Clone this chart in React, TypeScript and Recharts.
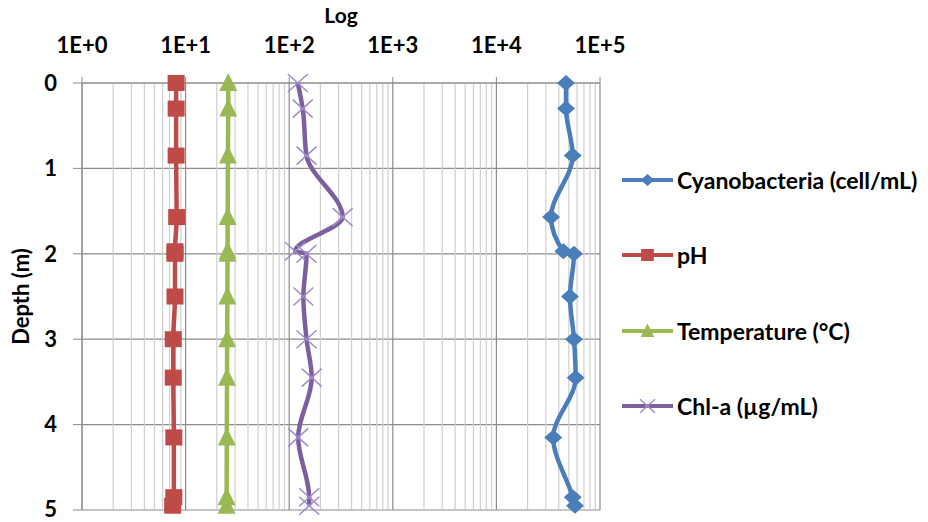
import React from 'react';
import { LineChart, Line, XAxis, YAxis, CartesianGrid, ReferenceLine, Legend } from 'recharts';

const depths = [0, 0.3, 0.85, 1.57, 1.97, 2.0, 2.5, 3.0, 3.45, 4.15, 4.85, 4.95];
const cyanobacteria = [47000, 47000, 54500, 33700, 44300, 56100, 51300, 56100, 58200, 35400, 54500, 57400];
const pH = [8.1, 8.1, 8.1, 8.2, 7.9, 7.9, 7.9, 7.6, 7.6, 7.7, 7.7, 7.5];
const temperature = [25.8, 25.8, 25.6, 25.5, 25.4, 25.4, 25.3, 25.2, 25.1, 25.0, 24.9, 24.9];
const chla = [121, 135, 147, 328, 114, 147, 137, 147, 165, 122, 156, 156];

const xTicks = [1, 10, 100, 1000, 10000, 100000];
const yTicks = [0, 1, 2, 3, 4, 5];
const minorMultipliers = [2, 3, 4, 5, 6, 7, 8, 9];
const minorTicks: number[] = [];
[1, 10, 100, 1000, 10000].forEach((d) => minorMultipliers.forEach((m) => minorTicks.push(d * m)));

const seriesKeys = ['cyano', 'ph', 'temp', 'chl'];
const seriesNames: Record<string, string> = {
  cyano: 'Cyanobacteria (cell/mL)',
  ph: 'pH',
  temp: 'Temperature (°C)',
  chl: 'Chl-a (µg/mL)',
};

const data = depths.map((d, i) => ({
  depth: d,
  cyano: cyanobacteria[i],
  ph: pH[i],
  temp: temperature[i],
  chl: chla[i],
}));

const BLUE = '#4A7EBB';
const RED = '#BE4B48';
const GREEN = '#98B954';
const PURPLE = '#7D5FA0';
const PURPLE_LIGHT = '#A08CC8';
const colors: Record<string, string> = { cyano: BLUE, ph: RED, temp: GREEN, chl: PURPLE };

const FONT = 'Lato, "Open Sans", sans-serif';

function shape(kind: string, cx: number, cy: number, s: number, key?: any) {
  if (kind === 'diamond') {
    return (
      <path key={key} d={`M${cx},${cy - 8 * s}L${cx + 9 * s},${cy}L${cx},${cy + 8 * s}L${cx - 9 * s},${cy}Z`} fill={BLUE} />
    );
  }
  if (kind === 'square') {
    return <rect key={key} x={cx - 8.5 * s} y={cy - 8 * s} width={17 * s} height={16 * s} fill={RED} />;
  }
  if (kind === 'triangle') {
    return (
      <path key={key} d={`M${cx},${cy - 10 * s}L${cx + 9 * s},${cy + 8 * s}L${cx - 9 * s},${cy + 8 * s}Z`} fill={GREEN} />
    );
  }
  return (
    <path
      key={key}
      d={`M${cx - 10 * s},${cy - 9 * s}L${cx + 10 * s},${cy + 9 * s}M${cx + 10 * s},${cy - 9 * s}L${cx - 10 * s},${cy + 9 * s}`}
      stroke={PURPLE_LIGHT}
      strokeWidth={1.5}
      fill="none"
    />
  );
}

const makeDot = (kind: string) => (p: any) => shape(kind, p.cx, p.cy, 1, `${kind}-${p.index}`);

const kinds: Record<string, string> = { cyano: 'diamond', ph: 'square', temp: 'triangle', chl: 'cross' };

const LegendContent = () => {
  return (
    <div style={{ width: 328, fontFamily: FONT, fontWeight: 700, fontSize: 23, color: '#000' }}>
      {seriesKeys.map((k) => (
        <div key={k} style={{ height: 75.5, display: 'flex', alignItems: 'center' }}>
          <svg width={55} height={24} style={{ marginLeft: 22, flex: 'none' }}>
            <line x1={0} y1={12} x2={51} y2={12} stroke={colors[k]} strokeWidth={4} />
            {shape(kinds[k], 25.5, 12, 0.75)}
          </svg>
          <span style={{ whiteSpace: 'nowrap' }}>{seriesNames[k]}</span>
        </div>
      ))}
    </div>
  );
};

const tickStyle = { fill: '#000', fontFamily: FONT, fontWeight: 700, fontSize: 22 };

export default function App() {
  return (
    <div style={{ position: 'absolute', left: 0, top: 0, width: 928, height: 522, background: '#fff' }}>
      <LineChart
        width={928}
        height={522}
        data={data}
        layout="vertical"
        margin={{ top: 25, right: 0, bottom: 12, left: 22 }}
      >
        {minorTicks.map((v) => (
          <ReferenceLine key={v} x={v} stroke="#CFCFCF" strokeWidth={1.2} />
        ))}
        <CartesianGrid stroke="#8C8C8C" strokeWidth={1.2} />
        <XAxis
          type="number"
          dataKey="cyano"
          orientation="top"
          scale="log"
          domain={[1, 100000]}
          ticks={xTicks}
          allowDataOverflow
          height={58}
          tickSize={6}
          tickMargin={24}
          tick={tickStyle}
          tickLine={{ stroke: '#8C8C8C' }}
          axisLine={{ stroke: '#8C8C8C' }}
          tickFormatter={(v: number) => `1E+${Math.round(Math.log10(v))}`}
          label={{ value: 'Log', position: 'top', offset: 2, style: { ...tickStyle, fontSize: 21 } }}
        />
        <YAxis
          type="number"
          dataKey="depth"
          domain={[0, 5]}
          ticks={yTicks}
          width={60}
          tickSize={9}
          tickMargin={16}
          tick={tickStyle}
          tickLine={{ stroke: '#8C8C8C' }}
          axisLine={{ stroke: '#8C8C8C' }}
          label={{
            content: (lp: any) => {
              const vb = lp.viewBox || {};
              const cx = vb.x - 2;
              const cy = vb.y + vb.height / 2;
              return (
                <text
                  x={cx}
                  y={cy}
                  transform={`rotate(-90 ${cx} ${cy})`}
                  textAnchor="middle"
                  dominantBaseline="central"
                  style={tickStyle}
                >
                  Depth (m)
                </text>
              );
            },
          }}
        />
        <Legend
          layout="vertical"
          align="right"
          verticalAlign="top"
          width={328}
          wrapperStyle={{ top: 142, right: 0 }}
          content={LegendContent}
        />
        {seriesKeys.map((k) => (
          <Line
            key={k}
            dataKey={k}
            name={seriesNames[k]}
            type="monotone"
            stroke={colors[k]}
            strokeWidth={4.5}
            dot={makeDot(kinds[k])}
            activeDot={false}
            isAnimationActive={false}
          />
        ))}
      </LineChart>
    </div>
  );
}
